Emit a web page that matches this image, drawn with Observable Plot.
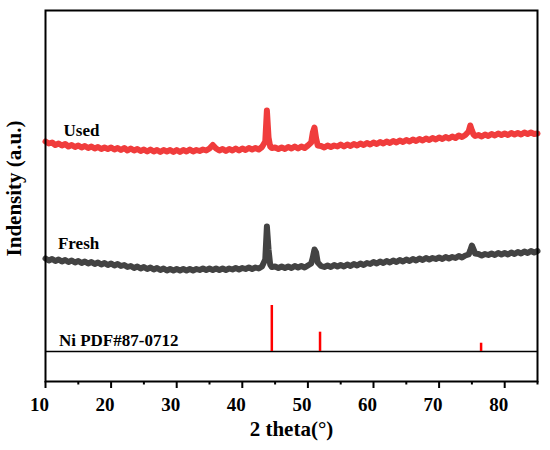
<!DOCTYPE html>
<html>
<head>
<meta charset="utf-8">
<script src="https://cdn.jsdelivr.net/npm/d3@7"></script>
<script src="https://cdn.jsdelivr.net/npm/@observablehq/plot@0.6"></script>
<style>
  body { margin: 0; background: #fff; }
</style>
</head>
<body>
<div id="chart"></div>
<script>
// ---- data (2θ in degrees, intensity in arbitrary units, curves already stacked) ----
const xTicks = [10, 20, 30, 40, 50, 60, 70, 80];
const xMinorTicks = [15, 25, 35, 45, 55, 65, 75, 85];

const usedData = [
[10,240],[10.5,238],[11,239],[11.5,236.5],[12,238],[12.5,236],[13,237.5],[13.5,235],[14,236.5],[14.5,234.5],
[15,236],[15.5,234],[16,235.5],[16.5,233.5],[17,235],[17.5,233],[18,234.5],[18.5,232.5],[19,234],[19.5,232.5],
[20,234],[20.5,232],[21,233.5],[21.5,231.5],[22,233.5],[22.5,231],[23,233],[23.5,231],[24,232.5],[24.5,230.5],
[25,232],[25.5,230],[26,232],[26.5,230],[27,231.5],[27.5,229.5],[28,231.5],[28.5,230],[29,231.5],[29.5,229.5],
[30,231.5],[30.5,229.5],[31,231.5],[31.5,230],[32,232],[32.5,230],[33,231.5],[33.5,230.5],[34,232],[34.5,231],
[35,233],[35.5,236.5],[36,233],[36.5,231],[37,232.5],[37.5,230.5],[38,232.5],[38.5,231],[39,233],[39.5,231],
[40,233],[40.5,231.5],[41,233.5],[41.5,232],[42,233.5],[42.5,232],[43,234.5],[43.5,240],[43.75,271],[44,244],
[44.25,235],[44.5,233.5],[45,234],[45.5,232.5],[46,234],[46.5,232.5],[47,234.5],[47.5,233],[48,235],[48.5,233],
[49,235],[49.5,233.5],[50,236],[50.5,239],[50.75,249],[51,254],[51.25,243],[51.5,236],[52,235.5],[52.5,234],
[53,236],[53.5,234.5],[54,236],[54.5,235],[55,237],[55.5,235],[56,237],[56.5,235.5],[57,237.5],[57.5,236],
[58,238],[58.5,236.5],[59,238.5],[59.5,237],[60,239],[60.5,237.5],[61,239.5],[61.5,238],[62,240],[62.5,238.5],
[63,240.5],[63.5,239],[64,241],[64.5,239.5],[65,241.5],[65.5,240],[66,242],[66.5,240.5],[67,242.5],[67.5,241],
[68,243],[68.5,241.5],[69,243.5],[69.5,242],[70,244],[70.5,242.5],[71,244.5],[71.5,243],[72,245],[72.5,243.5],
[73,246],[73.5,244.5],[74,246.5],[74.5,250],[74.75,256],[75,251],[75.25,247],[75.5,245.5],[76,246.5],[76.5,245],
[77,247],[77.5,245.5],[78,247.5],[78.5,246],[79,248],[79.5,246.5],[80,248],[80.5,246.5],[81,248.5],[81.5,247],
[82,248.5],[82.5,247],[83,249],[83.5,247.5],[84,249],[84.5,247.5],[85,248]
];

const freshData = [
[10,123],[10.5,121],[11,122.5],[11.5,120.5],[12,122],[12.5,120],[13,121.5],[13.5,119.5],[14,121],[14.5,119],
[15,120.5],[15.5,118.5],[16,120],[16.5,118],[17,119.5],[17.5,117.5],[18,119],[18.5,117],[19,118.5],[19.5,116.5],
[20,118],[20.5,116],[21,117.5],[21.5,115.5],[22,116.5],[22.5,114.5],[23,115.5],[23.5,113.5],[24,115],[24.5,113],
[25,114.5],[25.5,112.5],[26,114],[26.5,112],[27,113.5],[27.5,111.5],[28,113],[28.5,111],[29,112.5],[29.5,111],
[30,112.5],[30.5,111],[31,112.5],[31.5,111],[32,112.5],[32.5,111],[33,112.5],[33.5,111.5],[34,113],[34.5,111.5],
[35,113],[35.5,111.5],[36,113],[36.5,111.5],[37,113],[37.5,111.5],[38,113],[38.5,112],[39,113.5],[39.5,112],
[40,113.5],[40.5,112.5],[41,114],[41.5,112.5],[42,114],[42.5,113],[43,115],[43.5,122],[43.75,155],[44,132],
[44.25,117],[44.5,114.5],[45,115],[45.5,113.5],[46,115],[46.5,113.5],[47,115],[47.5,113.5],[48,115.5],[48.5,114],
[49,115.5],[49.5,114],[50,116],[50.5,118],[50.75,124],[51,132],[51.25,129],[51.5,119],[52,115.5],[52.5,114.5],
[53,116],[53.5,114.5],[54,116.5],[54.5,115],[55,116.5],[55.5,115],[56,117],[56.5,115.5],[57,117.5],[57.5,116],
[58,118],[58.5,116.5],[59,118.5],[59.5,117.5],[60,119.5],[60.5,118],[61,120],[61.5,118.5],[62,120.5],[62.5,119],
[63,121],[63.5,119.5],[64,121.5],[64.5,120],[65,122],[65.5,120.5],[66,122.5],[66.5,121],[67,123],[67.5,121.5],
[68,123.5],[68.5,122],[69,123.5],[69.5,122.5],[70,124],[70.5,122.5],[71,124.5],[71.5,123],[72,124.5],[72.5,123.5],
[73,125.5],[73.5,124],[74,126],[74.5,127],[74.75,131],[75,136],[75.25,132],[75.5,128],[76,127.5],[76.5,126],
[77,127.5],[77.5,126.5],[78,128],[78.5,126.5],[79,128.5],[79.5,127],[80,128.5],[80.5,127],[81,129],[81.5,127.5],
[82,129.5],[82.5,128],[83,130],[83.5,128.5],[84,130.5],[84.5,129],[85,130.5]
];

// Ni reference pattern PDF#87-0712
const niTheta = [44.5, 51.85, 76.4];
const niIntensity = [100, 42, 18];
const niBaseline = 30;      // stacked offset of the reference pattern
const niScale = 0.46;       // relative intensity -> plot units

// series labels
const labelText = ["Used", "Fresh", "Ni PDF#87-0712"];
const labelTheta = [12.75, 11.9, 12.05];
const labelIntensity = [250.5, 138, 40.5];

// ---- build tables ----
const niTable = niTheta.map((t, i) => ({theta: t, top: niBaseline + niIntensity[i] * niScale}));
const labelTable = labelText.map((t, i) => ({text: t, theta: labelTheta[i], intensity: labelIntensity[i]}));

const serif = "'Times New Roman', 'Liberation Serif', serif";

const chart = Plot.plot({
  width: 550,
  height: 450,
  marginLeft: 45,
  marginRight: 13,
  marginTop: 10,
  marginBottom: 69,
  style: {fontFamily: serif, fontWeight: "bold", color: "black", background: "white"},
  x: {domain: [10, 85]},
  y: {domain: [0, 371], axis: null},
  marks: [
    Plot.ruleY([niBaseline], {stroke: "black", strokeWidth: 1.6}),
    Plot.ruleX(niTable, {x: "theta", y1: niBaseline, y2: "top", stroke: "#ff0000", strokeWidth: 2.5}),
    Plot.line(freshData, {x: d => d[0], y: d => d[1], stroke: "#434343", strokeWidth: 6, strokeLinejoin: "round"}),
    Plot.line(usedData, {x: d => d[0], y: d => d[1], stroke: "#f03c3c", strokeWidth: 6, strokeLinejoin: "round"}),
    Plot.text(labelTable, {x: "theta", y: "intensity", text: "text", textAnchor: "start", fontSize: 17, fontWeight: "bold", fill: "black"}),
    Plot.axisX({ticks: xMinorTicks, tickSize: 3.5, text: null, label: null, strokeWidth: 2}),
    Plot.axisX({ticks: xTicks, tickSize: 7, text: null, label: null, strokeWidth: 2}),
    Plot.axisX({ticks: xTicks, tickSize: 0, tickPadding: 16, tickFormat: d => String(d), fontSize: 19, fontWeight: "bold", dx: -6, label: null}),
    Plot.frame({stroke: "black", strokeWidth: 2}),
    Plot.text(["2 theta(°)"], {frameAnchor: "bottom", lineAnchor: "middle", textAnchor: "middle", dy: 47.5, fontSize: 21, fontWeight: "bold", fill: "black"}),
    Plot.text(["Indensity (a.u.)"], {frameAnchor: "left", rotate: -90, textAnchor: "middle", lineAnchor: "middle", dx: -31, dy: -7.5, fontSize: 21, fontWeight: "bold", fill: "black"})
  ]
});
document.getElementById("chart").appendChild(chart);
</script>
</body>
</html>
